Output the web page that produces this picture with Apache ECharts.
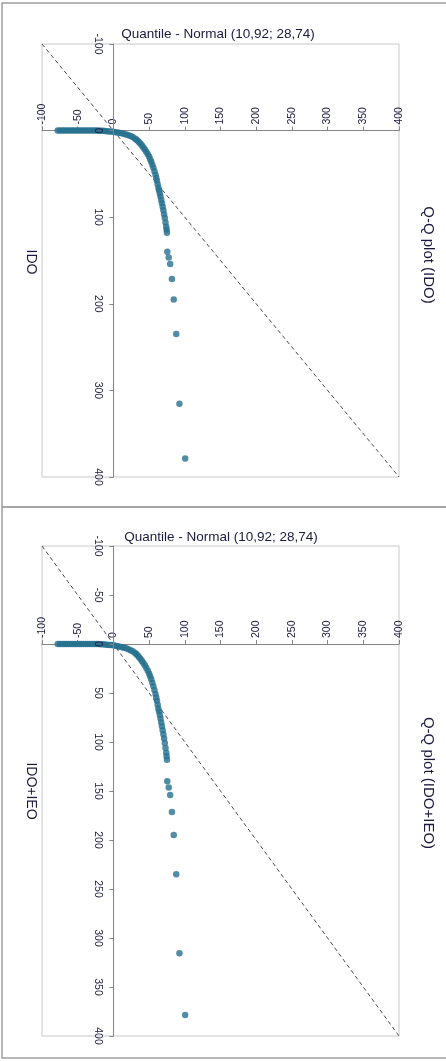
<!DOCTYPE html>
<html>
<head>
<meta charset="utf-8">
<script src="https://cdn.jsdelivr.net/npm/echarts@6/dist/echarts.min.js"></script>
<style>
  html, body { margin: 0; padding: 0; background: #fff; }
  #chart { width: 446px; height: 1061px; }
</style>
</head>
<body>
<div id="chart"></div>
<script>
// Both panels show the same points, so IDO+IEO reuses the IDO reading.
const normalQuantiles = [
  -78, -75, -72, -69, -66, -63, -60, -57, -54, -51, -48, -45, -42, -39,
  -36, -33, -30, -27, -24, -21, -18, -15, -12, -9, -6, -3, 0,
  3, 6, 9, 12, 15, 18, 21, 24, 27, 30, 32, 34, 36, 38, 40, 42, 44, 46,
  48, 50, 51.5, 53, 54.5, 56, 57.5, 59, 60, 61, 62, 63, 64, 65, 66, 67,
  68, 69, 70, 71, 72, 73, 74, 74.5, 75,
  75.5, 77.5, 79.5, 82, 84.5, 88, 92.5, 100.5
];
const idoValues = [
  0, 0, 0, 0, 0, 0, 0, 0, 0, 0, 0, 0, 0, 0,
  0, 0, 0, 0, 0, 0, 0.2, 0.3, 0.5, 0.7, 0.9, 1.1, 1.4,
  1.8, 2.2, 2.7, 3.2, 3.8, 4.4, 5.3, 6.3, 7.5, 9, 10.3, 11.8, 13.5, 15.3, 17.3, 19.5, 21.8, 24.3,
  27, 30, 33, 36, 39.5, 43, 47, 51, 54.5, 58, 62, 66, 69, 72.5, 76, 80,
  84, 88, 92, 96.5, 101, 106, 111, 114.5, 118,
  140, 146.5, 154, 171.5, 195, 235, 315.5, 378.5
];
const idoIeoValues = idoValues.slice();

const axisRange = [-100, 400];      // both axes
const xTickStep = 50;
const yTickSteps = [100, 50];       // IDO panel, IDO+IEO panel
const axisTitle = 'Quantile - Normal (10,92; 28,74)';
const panelTitles = ['Q-Q plot (IDO)', 'Q-Q plot (IDO+IEO)'];
const seriesNames = ['IDO', 'IDO+IEO'];

const textColor = '#1a1a40';
const fontFamily = 'Liberation Sans, Arial, sans-serif';

const toPairs = (xs, ys) => xs.map((x, i) => [x, ys[i]]);

const grids = [
  { left: 42, top: 44, width: 357, height: 433 },
  { left: 42, top: 546, width: 357, height: 490 },
];

// the axes cross at zero, so shift each one in from the grid edge by
// the share of the range that lies below zero
const zeroShare = (0 - axisRange[0]) / (axisRange[1] - axisRange[0]);

const xAxes = grids.map((g, i) => ({
  type: 'value',
  gridIndex: i,
  position: 'top',
  offset: -g.height * zeroShare,
  min: axisRange[0],
  max: axisRange[1],
  interval: xTickStep,
  axisLine: { onZero: false, lineStyle: { color: '#858585', width: 1 } },
  axisTick: { show: true, length: 4, lineStyle: { color: '#858585' } },
  axisLabel: { rotate: -90, margin: 6, fontSize: 10.5, color: textColor, fontFamily },
  splitLine: { show: false },
}));

const yAxes = grids.map((g, i) => ({
  type: 'value',
  gridIndex: i,
  position: 'left',
  offset: -g.width * zeroShare,
  inverse: true,
  min: axisRange[0],
  max: axisRange[1],
  interval: yTickSteps[i],
  z: 3,
  axisLine: { onZero: false, lineStyle: { color: '#858585', width: 1 } },
  axisTick: { show: true, length: 4, lineStyle: { color: '#858585' } },
  axisLabel: { rotate: -90, margin: 10, fontSize: 10.5, color: textColor, fontFamily },
  splitLine: { show: false },
}));

const valueSets = [idoValues, idoIeoValues];
const series = [];
valueSets.forEach((vals, i) => {
  series.push({
    name: seriesNames[i] + ' ref',
    type: 'line',
    xAxisIndex: i,
    yAxisIndex: i,
    symbol: 'none',
    silent: true,
    lineStyle: { color: '#4a4a4a', width: 1, type: [4, 3] },
    data: [[axisRange[0], axisRange[0]], [axisRange[1], axisRange[1]]],
    z: 1,
  });
  series.push({
    name: seriesNames[i],
    type: 'scatter',
    xAxisIndex: i,
    yAxisIndex: i,
    symbolSize: 6.5,
    itemStyle: { color: '#27708f' },
    data: toPairs(normalQuantiles, vals),
    z: 2,
  });
});

const label = (text, x, y, size, rotated) => ({
  type: 'text',
  x, y,
  rotation: rotated ? -Math.PI / 2 : 0,
  style: {
    text,
    fill: textColor,
    font: size + 'px ' + fontFamily,
    textAlign: 'center',
    textVerticalAlign: 'middle',
  },
});

const graphic = [
  { type: 'rect', shape: { x: 2, y: 3, width: 446, height: 504 },
    style: { fill: 'none', stroke: '#a0a0a0', lineWidth: 1.5 } },
  { type: 'rect', shape: { x: 2, y: 507, width: 446, height: 551 },
    style: { fill: 'none', stroke: '#a0a0a0', lineWidth: 1.5 } },
  label(axisTitle, 218, 34, 13.5, false),
  label(axisTitle, 221, 537, 13.5, false),
  label(panelTitles[0], 428, 255, 15, true),
  label(panelTitles[1], 428, 783, 15, true),
  label(seriesNames[0], 31, 262, 14, true),
  label(seriesNames[1], 31, 791, 14, true),
];

const chart = echarts.init(document.getElementById('chart'));
chart.setOption({
  animation: false,
  backgroundColor: '#fff',
  grid: grids.map(g => Object.assign({ show: true, borderColor: '#c8c8c8', borderWidth: 1 }, g)),
  xAxis: xAxes,
  yAxis: yAxes,
  series,
  graphic,
});
</script>
</body>
</html>
